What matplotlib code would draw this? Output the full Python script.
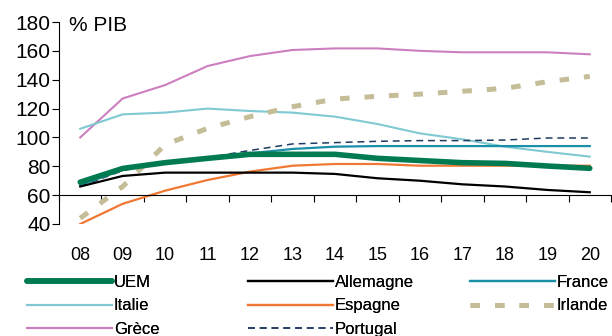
import matplotlib
matplotlib.use("Agg")
import matplotlib.pyplot as plt

plt.rcParams['font.family'] = ['Liberation Sans', 'DejaVu Sans']

annees = ["08", "09", "10", "11", "12", "13", "14", "15", "16", "17", "18", "19", "20"]

uem       = [69, 78.5, 82.5, 85.5, 88.3, 88.3, 88.3, 85.5, 84, 82.5, 82, 80.2, 78.6]
allemagne = [66, 73.3, 75.6, 75.6, 75.6, 75.6, 74.7, 71.7, 70, 67.5, 66, 63.6, 62]
france    = [67, 77.5, 83, 86, 89, 92, 93.6, 94, 94, 94, 94, 94, 94]
italie    = [106, 116, 117.2, 120, 118.3, 117.2, 114.4, 109.3, 102.8, 98.7, 93.6, 90, 86.7]
espagne   = [40, 54, 63.1, 70.5, 76.3, 80.4, 81.6, 81.6, 80.4, 80.4, 80.4, 80.4, 80.4]
irlande   = [44, 66, 95, 106.3, 114.4, 121.3, 126.6, 128.5, 130, 132, 134, 138.6, 142.3]
grece     = [100, 127, 136.3, 149.5, 156.4, 160.6, 161.7, 161.7, 160, 159, 159, 159, 157.6]
portugal  = [66, 77, 83, 86, 91, 95.5, 96.4, 97.3, 97.8, 97.8, 98.2, 99.6, 99.6]

x = list(range(len(annees)))

fig = plt.figure(figsize=(6.12, 3.36), dpi=100)
ax = fig.add_axes([59/612, 1 - 224/336, (611 - 59)/612, (224 - 22)/336])

l_grece, = ax.plot(x, grece, color="#CC7EBE", lw=1.5, label="Grèce")
l_italie, = ax.plot(x, italie, color="#7FC9D2", lw=1.5, label="Italie")
l_irlande, = ax.plot(x, irlande, color="#C4BD97", lw=3.6, dashes=(1.9, 3.0),
                     dash_capstyle="butt", label="Irlande")
l_portugal, = ax.plot(x, portugal, color="#1F3A60", lw=1.1, dashes=(4.5, 3.2),
                      label="Portugal")
l_france, = ax.plot(x, france, color="#1A8FA8", lw=1.6, label="France")
l_espagne, = ax.plot(x, espagne, color="#F07832", lw=1.6, label="Espagne")
l_allemagne, = ax.plot(x, allemagne, color="black", lw=1.6, label="Allemagne")
l_uem, = ax.plot(x, uem, color="#007A50", lw=4.0, solid_capstyle="round", label="UEM")

ax.set_xlim(-0.5, len(annees) - 0.5)
ax.set_ylim(40, 180)
ax.set_yticks(range(40, 181, 20))
ax.tick_params(axis="y", labelsize=15, length=5, width=0.8, pad=1, colors="black")

# x axis sits on the 60 line, year labels pushed down under the plot
ax.spines["bottom"].set_position(("data", 60))
ax.spines["top"].set_visible(False)
ax.spines["right"].set_visible(False)
ax.set_xticks([i - 0.5 for i in range(len(annees) + 1)])
ax.set_xticklabels([])
ax.set_xticks(x, minor=True)
ax.set_xticklabels(annees, minor=True)
ax.tick_params(axis="x", which="major", length=5, width=0.8, direction="out")
ax.tick_params(axis="x", which="minor", length=0, pad=37, labelsize=13)

ax.text((69 - 59)/552, 0.985, "% PIB", transform=ax.transAxes, fontsize=15,
        va="center", ha="left")

colonnes = [
    ([l_uem, l_italie, l_grece], 27),
    ([l_allemagne, l_espagne, l_portugal], 248),
    ([l_france, l_irlande], 470),
]
for handles, px in colonnes:
    leg = fig.legend(handles=handles, loc="upper left",
                     bbox_to_anchor=(px/612, 1 - 275/336), frameon=False,
                     borderpad=0, borderaxespad=0, handlelength=5.1,
                     handletextpad=0.12, labelspacing=0.5, fontsize=12)
    fig.add_artist(leg)

fig.savefig("out.png", dpi=100)
